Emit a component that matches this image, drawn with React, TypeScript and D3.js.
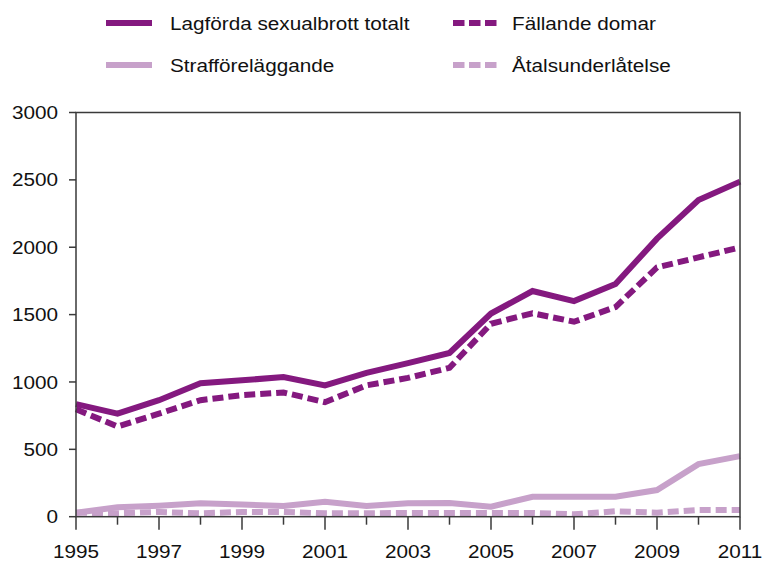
import React from "react";
import * as d3 from "d3";

const years = [1995,1996,1997,1998,1999,2000,2001,2002,2003,2004,2005,2006,2007,2008,2009,2010,2011];
const totalt = [835,765,865,990,1012,1037,975,1068,1140,1215,1508,1675,1600,1727,2064,2350,2487];
const fallande = [797,670,765,865,902,922,850,975,1030,1105,1432,1510,1447,1556,1850,1925,1999];
const straff = [30,70,82,99,90,79,111,79,99,102,74,148,148,148,198,390,450];
const atal = [30,25,35,25,35,35,25,25,28,28,28,28,18,40,30,50,50];
const yTicks = [0,500,1000,1500,2000,2500,3000];
const xLabels = [1995,1997,1999,2001,2003,2005,2007,2009,2011];

const DARK = "#84197f";
const LIGHT = "#c7a1ca";
const FONT = "'Liberation Sans', Arial, Helvetica, sans-serif";
const SX = 1.12;

const series = [
  { name: "Lagförda sexualbrott totalt", values: totalt, color: DARK, dash: null },
  { name: "Fällande domar", values: fallande, color: DARK, dash: "11,5" },
  { name: "Strafföreläggande", values: straff, color: LIGHT, dash: null },
  { name: "Åtalsunderlåtelse", values: atal, color: LIGHT, dash: "11,5" },
];

export default function App() {
  const left = 76, right = 740, top = 112.5, bottom = 516.7;
  const x = d3.scaleLinear().domain([1995, 2011]).range([left, right]);
  const y = d3.scaleLinear().domain([0, 3000]).range([bottom, top]);
  const line = d3.line<number>().x((_, i) => x(years[i])).y((d) => y(d));

  const legendPos = [
    { lx: 106, tx: 170, cy: 23 },
    { lx: 453, tx: 512, cy: 23 },
    { lx: 106, tx: 170, cy: 65 },
    { lx: 453, tx: 512, cy: 65 },
  ];

  return (
    <svg width={764} height={563} style={{ position: "absolute", left: 0, top: 0, background: "#fff" }}>
      {/* lines (drawn in reverse so dark on top) */}
      {[...series].reverse().map((s) => (
        <path key={s.name} d={line(s.values) || ""} fill="none" stroke={s.color}
          strokeWidth={6} strokeDasharray={s.dash || undefined} strokeLinejoin="miter" />
      ))}
      {/* frame */}
      <rect x={left} y={top} width={right - left} height={bottom - top} fill="none" stroke="#3a3a3a" strokeWidth={1.5} />
      {/* y ticks */}
      {yTicks.map((t) => (
        <g key={t}>
          <line x1={left - 7} x2={left} y1={y(t)} y2={y(t)} stroke="#3a3a3a" strokeWidth={1.5} />
          <text transform={`translate(${58},${y(t) + 6.6}) scale(${SX},1)`} textAnchor="end"
            fontFamily={FONT} fontSize={18.5} fill="#111">{t}</text>
        </g>
      ))}
      {/* x ticks */}
      {years.map((yr) => {
        const long = xLabels.includes(yr);
        return (
          <line key={yr} x1={x(yr)} x2={x(yr)} y1={bottom} y2={bottom + (long ? 13 : 8)} stroke="#3a3a3a" strokeWidth={1.5} />
        );
      })}
      {xLabels.map((yr) => (
        <text key={yr} transform={`translate(${x(yr)},${558}) scale(${SX},1)`} textAnchor="middle"
          fontFamily={FONT} fontSize={18.5} fill="#111">{yr}</text>
      ))}
      {/* legend */}
      {series.map((s, i) => {
        const p = legendPos[i];
        return (
          <g key={s.name}>
            <line x1={p.lx} x2={p.lx + 46} y1={p.cy} y2={p.cy} stroke={s.color} strokeWidth={6}
              strokeDasharray={s.dash ? "11.5,4.5" : undefined} />
            <text transform={`translate(${p.tx},${p.cy + 6.8}) scale(${SX},1)`} fontFamily={FONT}
              fontSize={18.5} fill="#111">{s.name}</text>
          </g>
        );
      })}
    </svg>
  );
}
